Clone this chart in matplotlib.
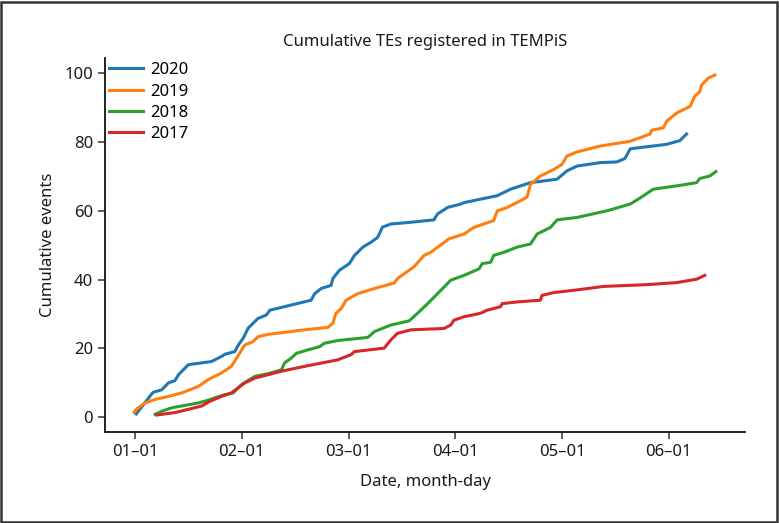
import matplotlib
matplotlib.use("Agg")
import matplotlib.pyplot as plt
from matplotlib.patches import Rectangle

plt.rcParams['font.family'] = ['Noto Sans', 'DejaVu Sans']

# x: days since 01-01 (month ticks evenly spaced), y: cumulative events
days_2020 = [0.3, 4.8, 5.2, 7.6, 9.5, 11.4, 12.4, 15.2, 18.1, 21.8, 24.7, 25.6, 28.5, 29.5,
             30.9, 32.3, 35.1, 37.5, 38.5, 41.8, 44.6, 50.3, 51.3, 53.2, 56.0, 56.5, 58.4,
             61.2, 62.7, 65.1, 67.4, 69.3, 70.7, 73.1, 78.8, 85.4, 86.4, 89.3, 93.1, 94.0,
             98.7, 103.5, 107.3, 113.0, 120.6, 123.4, 126.3, 132.9, 137.7, 140.0, 141.5,
             146.2, 151.9, 155.7, 157.6]
events_2020 = [1.0, 6.9, 7.3, 8.0, 10.0, 10.7, 12.4, 15.3, 15.7, 16.2, 17.7, 18.3, 19.1, 21.0,
               23.0, 25.9, 28.7, 29.7, 31.1, 31.9, 32.6, 34.0, 35.9, 37.4, 38.3, 40.3, 42.7,
               44.6, 47.0, 49.4, 50.8, 52.2, 55.2, 56.1, 56.6, 57.3, 59.0, 60.9, 61.9, 62.3,
               63.3, 64.3, 66.2, 68.1, 69.1, 71.5, 72.9, 73.9, 74.1, 75.1, 77.9,
               78.5, 79.2, 80.3, 82.2]

days_2019 = [-0.3, 0.5, 2.8, 5.7, 9.5, 13.3, 18.1, 20.9, 24.7, 27.5, 29.0, 31.3, 33.7, 35.1,
             38.0, 44.6, 46.5, 55.1, 56.5, 57.4, 58.9, 60.3, 63.6, 68.4, 74.1, 75.0, 79.7,
             82.6, 84.5, 89.7, 94.0, 96.8, 102.5, 103.5, 106.3, 110.1, 112.0, 113.0, 115.8,
             119.6, 122.0, 123.4, 126.3, 132.9, 141.5, 147.2, 147.6, 151.0, 151.9, 154.8,
             158.6, 159.9, 161.4, 161.9, 163.8, 165.7]
events_2019 = [1.5, 2.5, 4.2, 5.2, 6.1, 7.1, 9.0, 11.0, 12.9, 14.8, 17.2, 21.0, 22.0, 23.4,
               24.1, 24.9, 25.2, 26.1, 27.3, 30.2, 31.6, 34.0, 35.9, 37.4, 39.0, 40.3, 43.7,
               47.0, 47.9, 51.8, 53.2, 55.1, 57.1, 59.9, 60.9, 62.8, 63.9, 67.6, 70.0,
               71.9, 73.4, 75.8, 77.0, 78.7, 80.1, 82.2, 83.3, 84.0, 85.9, 88.3,
               90.2, 93.1, 94.5, 96.4, 98.4, 99.3]

days_2018 = [5.7, 7.6, 10.5, 18.1, 20.9, 22.8, 25.6, 28.0, 30.4, 34.2, 38.0, 41.8, 42.7, 44.6,
             46.1, 49.4, 52.7, 54.1, 57.9, 66.5, 68.4, 73.1, 78.3, 80.7, 83.6, 87.4, 90.2,
             94.0, 98.3, 99.2, 101.6, 102.5, 105.4, 109.2, 113.0, 114.9, 118.7, 120.6, 126.3,
             132.9, 134.8, 141.5, 143.8, 148.1, 155.7, 160.5, 161.4, 164.2, 166.0]
events_2018 = [0.9, 1.8, 2.8, 4.2, 5.0, 5.7, 6.6, 7.1, 9.5, 11.9, 12.7, 13.8, 15.8, 17.2,
               18.6, 19.6, 20.5, 21.5, 22.3, 23.2, 24.9, 26.8, 28.0, 30.2, 33.0, 36.9, 39.8,
               41.2, 43.1, 44.6, 45.0, 47.0, 47.9, 49.4, 50.3, 53.2, 55.1, 57.3, 58.0,
               59.5, 59.9, 61.9, 63.3, 66.2, 67.3, 68.1, 69.3, 70.0, 71.3]

days_2017 = [6.2, 11.4, 19.0, 21.4, 24.7, 27.5, 31.3, 34.2, 38.0, 41.8, 48.4, 57.9, 61.7, 62.7,
             71.2, 73.1, 75.0, 78.8, 88.3, 90.2, 91.1, 94.0, 98.7, 100.6, 104.4, 104.9, 109.2,
             115.8, 116.3, 119.6, 127.2, 133.9, 146.2, 154.8, 160.5, 162.8]
events_2017 = [0.7, 1.4, 3.3, 4.7, 6.1, 7.1, 10.0, 11.4, 12.4, 13.4, 14.8, 16.7, 18.2, 19.1,
               20.1, 22.5, 24.4, 25.4, 25.8, 26.8, 28.2, 29.2, 30.2, 31.1, 32.1, 33.0, 33.5,
               34.0, 35.4, 36.2, 37.1, 38.0, 38.5, 39.1, 40.1, 41.2]

series = [("2020", days_2020, events_2020, "#1f77b4"),
          ("2019", days_2019, events_2019, "#ff7f0e"),
          ("2018", days_2018, events_2018, "#2ca02c"),
          ("2017", days_2017, events_2017, "#d62728")]

tick_labels = ["01\u201301", "02\u201301", "03\u201301", "04\u201301", "05\u201301", "06\u201301"]
month_len = 30.5

fig = plt.figure(figsize=(7.79, 5.23), dpi=100)
ax = fig.add_axes([0.1348, 0.174, 0.8216, 0.715])

for label, x, y, c in series:
    ax.plot(x, y, color=c, lw=2.2, label=label)

ax.set_xticks([i * month_len for i in range(len(tick_labels))])
ax.set_xticklabels(tick_labels)
ax.set_yticks([0, 20, 40, 60, 80, 100])
ax.tick_params(labelsize=12, length=5, width=1.1, color="#333333", labelcolor="#1a1a1a")
for s in ("top", "right"):
    ax.spines[s].set_visible(False)
for s in ("left", "bottom"):
    ax.spines[s].set_linewidth(1.3)
    ax.spines[s].set_color("#111111")

ax.set_title("Cumulative TEs registered in TEMPiS", fontsize=12, pad=9, color="#1a1a1a")
ax.set_xlabel("Date, month-day", fontsize=12, color="#1a1a1a", labelpad=10)
ax.set_ylabel("Cumulative events", fontsize=12, color="#1a1a1a", labelpad=6)

leg = ax.legend(loc="upper left", bbox_to_anchor=(0.0, 1.0), frameon=False, fontsize=12,
                borderaxespad=0.15, borderpad=0.1, handlelength=2.0, handletextpad=0.45,
                labelspacing=0.32)

fig.patches.append(Rectangle((0.001, 0.001), 0.997, 0.996, transform=fig.transFigure,
                             fill=False, edgecolor="#333333", lw=1.8))

fig.savefig("out.png", dpi=100)
